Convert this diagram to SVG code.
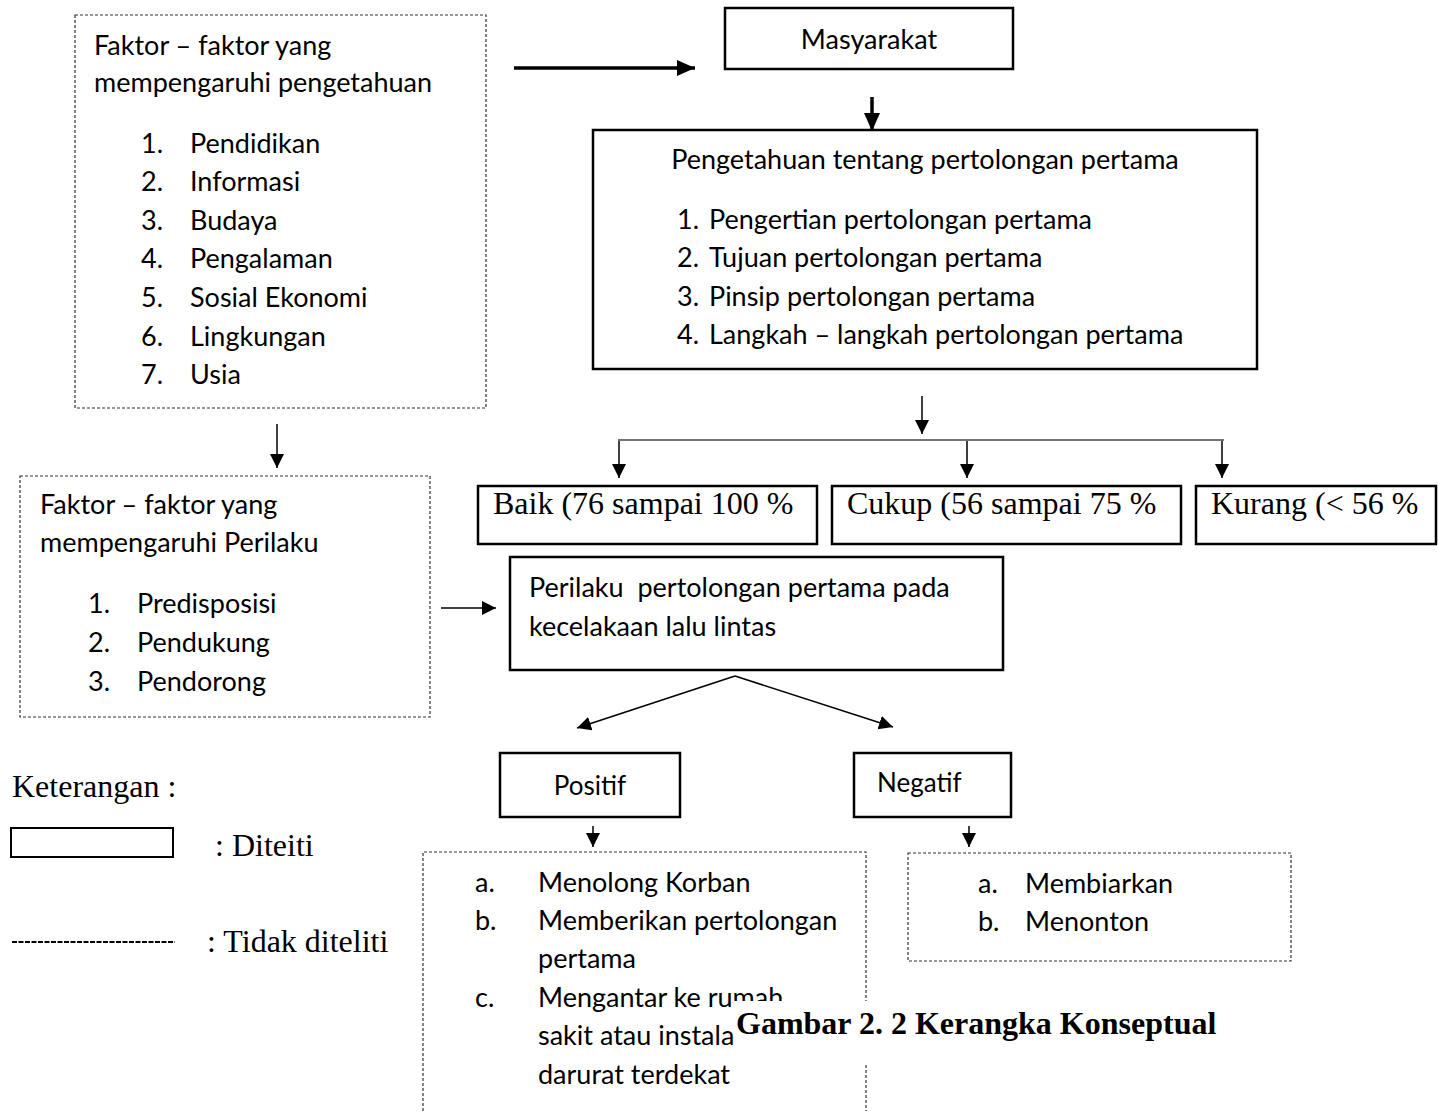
<svg xmlns="http://www.w3.org/2000/svg" width="1438" height="1111" viewBox="0 0 1438 1111">
<style>
.sans{font-family:Lato,"Liberation Sans",sans-serif;font-size:27px;fill:#000}
.serif{font-family:"Liberation Serif","Times New Roman",serif;font-size:32px;fill:#000}
.solid{fill:#fff;stroke:#000;stroke-width:2.5}
.dash{fill:#fff;stroke:#333;stroke-width:1.2;stroke-dasharray:3 2}
.conn{stroke:#000;stroke-width:1.5;fill:none}
.thick{stroke:#000;stroke-width:3.5;fill:none}
</style>
<defs>
<marker id="ah" markerUnits="userSpaceOnUse" markerWidth="14" markerHeight="16" refX="14" refY="7" orient="auto">
<path d="M0,0 L14,7 L0,14 Z" fill="#000"/>
</marker>
<marker id="ahb" markerUnits="userSpaceOnUse" markerWidth="18" markerHeight="18" refX="18" refY="8" orient="auto">
<path d="M0,0 L18,8 L0,16 Z" fill="#000"/>
</marker>
</defs>
<rect width="1438" height="1111" fill="#fff"/>

<g id="connectors">
<line class="thick" x1="514" y1="68" x2="695" y2="68" marker-end="url(#ahb)"/>
<line class="thick" x1="872" y1="97" x2="872" y2="131" marker-end="url(#ahb)"/>
<line class="conn" x1="922" y1="396" x2="922" y2="434" marker-end="url(#ah)"/>
<line stroke="#444" stroke-width="1.5" x1="618" y1="440" x2="1224" y2="440"/>
<line class="conn" x1="619" y1="441" x2="619" y2="478" marker-end="url(#ah)"/>
<line class="conn" x1="967" y1="441" x2="967" y2="478" marker-end="url(#ah)"/>
<line class="conn" x1="1222" y1="441" x2="1222" y2="478" marker-end="url(#ah)"/>
<line class="conn" x1="277" y1="424" x2="277" y2="468" marker-end="url(#ah)"/>
<line class="conn" x1="441" y1="608" x2="496" y2="608" marker-end="url(#ah)"/>
<line class="conn" x1="735" y1="676" x2="577" y2="728" marker-end="url(#ah)"/>
<line class="conn" x1="735" y1="676" x2="893" y2="727" marker-end="url(#ah)"/>
<line class="conn" x1="593" y1="826" x2="593" y2="847" marker-end="url(#ah)"/>
<line class="conn" x1="969" y1="826" x2="969" y2="847" marker-end="url(#ah)"/>
</g>

<g id="faktor-pengetahuan">
<rect class="dash" x="75" y="15" width="411" height="393"/>
<text class="sans" x="94" y="55">Faktor – faktor yang</text>
<text class="sans" x="94" y="92">mempengaruhi pengetahuan</text>
<text class="sans" x="141" y="153">1.</text><text class="sans" x="190" y="153">Pendidikan</text>
<text class="sans" x="141" y="191">2.</text><text class="sans" x="190" y="191">Informasi</text>
<text class="sans" x="141" y="230">3.</text><text class="sans" x="190" y="230">Budaya</text>
<text class="sans" x="141" y="268">4.</text><text class="sans" x="190" y="268">Pengalaman</text>
<text class="sans" x="141" y="307">5.</text><text class="sans" x="190" y="307">Sosial Ekonomi</text>
<text class="sans" x="141" y="346">6.</text><text class="sans" x="190" y="346">Lingkungan</text>
<text class="sans" x="141" y="384">7.</text><text class="sans" x="190" y="384">Usia</text>
</g>

<g id="masyarakat">
<rect class="solid" x="725" y="8" width="288" height="61"/>
<text class="sans" x="869" y="49" text-anchor="middle">Masyarakat</text>
</g>

<g id="pengetahuan">
<rect class="solid" x="593" y="130" width="664" height="239"/>
<text class="sans" x="925" y="169" text-anchor="middle">Pengetahuan tentang pertolongan pertama</text>
<text class="sans" x="677" y="229">1.</text><text class="sans" x="709" y="229">Pengertian pertolongan pertama</text>
<text class="sans" x="677" y="267">2.</text><text class="sans" x="709" y="267">Tujuan pertolongan pertama</text>
<text class="sans" x="677" y="306">3.</text><text class="sans" x="709" y="306">Pinsip pertolongan pertama</text>
<text class="sans" x="677" y="344">4.</text><text class="sans" x="709" y="344">Langkah – langkah pertolongan pertama</text>
</g>

<g id="baik">
<rect class="solid" x="478" y="486" width="339" height="58"/>
<text class="serif" x="493" y="514">Baik (76 sampai 100 %</text>
</g>
<g id="cukup">
<rect class="solid" x="832" y="486" width="349" height="58"/>
<text class="serif" x="847" y="514">Cukup (56 sampai 75 %</text>
</g>
<g id="kurang">
<rect class="solid" x="1196" y="486" width="240" height="58"/>
<text class="serif" x="1211" y="514">Kurang (&lt; 56 %</text>
</g>

<g id="faktor-perilaku">
<rect class="dash" x="20" y="476" width="410" height="241"/>
<text class="sans" x="40" y="514">Faktor – faktor yang</text>
<text class="sans" x="40" y="552">mempengaruhi Perilaku</text>
<text class="sans" x="88" y="613">1.</text><text class="sans" x="137" y="613">Predisposisi</text>
<text class="sans" x="88" y="652">2.</text><text class="sans" x="137" y="652">Pendukung</text>
<text class="sans" x="88" y="691">3.</text><text class="sans" x="137" y="691">Pendorong</text>
</g>

<g id="perilaku">
<rect class="solid" x="510" y="557" width="493" height="113"/>
<text class="sans" x="529" y="597" xml:space="preserve">Perilaku  pertolongan pertama pada</text>
<text class="sans" x="529" y="636">kecelakaan lalu lintas</text>
</g>

<g id="positif">
<rect class="solid" x="500" y="753" width="180" height="64"/>
<text class="sans" x="590" y="795" text-anchor="middle" style="font-size:26px">Positif</text>
</g>
<g id="negatif">
<rect class="solid" x="854" y="753" width="157" height="64"/>
<text class="sans" x="877" y="792" style="font-size:26px">Negatif</text>
</g>

<g id="positif-list">
<path class="dash" d="M423,1111 V852 H866 V1111"/>
<text class="sans" x="475" y="892">a.</text><text class="sans" x="538" y="892">Menolong Korban</text>
<text class="sans" x="475" y="930">b.</text><text class="sans" x="538" y="930">Memberikan pertolongan</text>
<text class="sans" x="538" y="968">pertama</text>
<text class="sans" x="475" y="1007">c.</text><text class="sans" x="538" y="1007">Mengantar ke rumah</text>
<text class="sans" x="538" y="1045">sakit atau instala</text>
<text class="sans" x="538" y="1084">darurat terdekat</text>
</g>

<g id="negatif-list">
<rect class="dash" x="908" y="853" width="383" height="108"/>
<text class="sans" x="978" y="893">a.</text><text class="sans" x="1025" y="893">Membiarkan</text>
<text class="sans" x="978" y="931">b.</text><text class="sans" x="1025" y="931">Menonton</text>
</g>

<g id="legend">
<text class="serif" x="12" y="797">Keterangan :</text>
<rect x="11" y="828" width="162" height="29" fill="#fff" stroke="#000" stroke-width="2"/>
<text class="serif" x="215" y="856">: Diteiti</text>
<line x1="12" y1="942" x2="175" y2="942" stroke="#000" stroke-width="2" stroke-dasharray="5 1.5"/>
<text class="serif" x="207" y="952">: Tidak diteliti</text>
</g>

<g id="caption">
<rect x="734" y="1001" width="490" height="64" fill="#fff"/>
<text class="serif" x="736" y="1034" font-weight="bold">Gambar 2. 2 Kerangka Konseptual</text>
</g>
</svg>
